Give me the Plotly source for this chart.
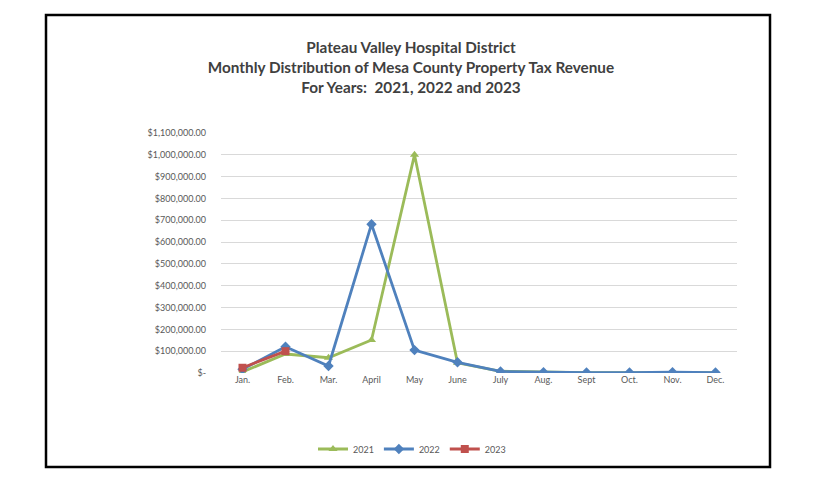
import plotly.graph_objects as go

months = ["Jan.", "Feb.", "Mar.", "April", "May", "June", "July", "Aug.", "Sept", "Oct.", "Nov.", "Dec."]
rev_2021 = [5000, 87000, 70000, 151000, 1000000, 47000, 8000, 4000, 2000, 2000, 3000, 2000]
rev_2022 = [17000, 120000, 32000, 682000, 105000, 49000, 7000, 4000, 2000, 2000, 4000, 2000]
rev_2023 = [24000, 100000]

tick_vals = [i * 100000 for i in range(12)]
tick_text = ["$-"] + ["${:,.2f}".format(v) for v in tick_vals[1:]]

W, H = 816, 480
OFF = 8  # page body margin shifts the figure by 8px
L, R, T, B = 221 - OFF, 79 + OFF, 133 - OFF, 107 + OFF

fig = go.Figure()
fig.add_trace(go.Scatter(x=months, y=rev_2021, name="2021", mode="lines+markers",
                         line=dict(color="#9BBB59", width=2.8),
                         marker=dict(symbol="triangle-up", size=8, color="#9BBB59")))
fig.add_trace(go.Scatter(x=months, y=rev_2022, name="2022", mode="lines+markers",
                         line=dict(color="#4F81BD", width=2.8),
                         marker=dict(symbol="diamond", size=8, color="#4F81BD")))
fig.add_trace(go.Scatter(x=months[:len(rev_2023)], y=rev_2023, name="2023", mode="lines+markers",
                         line=dict(color="#C0504D", width=2.8),
                         marker=dict(symbol="square", size=8, color="#C0504D")))

def px_x(p):
    return (p - OFF - L) / (W - L - R)

def px_y(p):
    return (H - B - (p - OFF)) / (H - B - T)

# outer black frame
fig.add_shape(type="rect", xref="paper", yref="paper",
              x0=px_x(46), x1=px_x(770), y0=px_y(467), y1=px_y(15),
              line=dict(color="black", width=2.5), fillcolor="rgba(0,0,0,0)")

fig.update_layout(
    width=W, height=H,
    margin=dict(l=L, r=R, t=T, b=B),
    paper_bgcolor="white", plot_bgcolor="white",
    font=dict(family="Lato, Carlito, Calibri, sans-serif", color="#595959", size=9),
    title=dict(text="<b>Plateau Valley Hospital District<br>Monthly Distribution of Mesa County Property Tax Revenue<br>For Years:  2021, 2022 and 2023</b>",
               x=(411 - OFF) / W, xanchor="center", y=1 - (53 - OFF) / H, yanchor="middle",
               font=dict(size=15.3, color="#404040")),
    showlegend=True,
    legend=dict(orientation="h", x=px_x(412), xanchor="center", y=px_y(449), yanchor="middle",
                font=dict(size=9, color="#595959"), itemwidth=30, bgcolor="rgba(0,0,0,0)"),
    xaxis=dict(type="category", range=[-0.5, 11.5], showgrid=False, zeroline=False,
               showline=False, ticks="", tickfont=dict(size=9, color="#595959")),
    yaxis=dict(range=[0, 1100000], tickvals=tick_vals, ticktext=tick_text,
               showgrid=True, gridcolor="#D9D9D9", gridwidth=1, zeroline=False,
               showline=False, ticks="", ticklabelstandoff=14,
               tickfont=dict(size=9, color="#595959")),
)

fig.write_html("out.html")
